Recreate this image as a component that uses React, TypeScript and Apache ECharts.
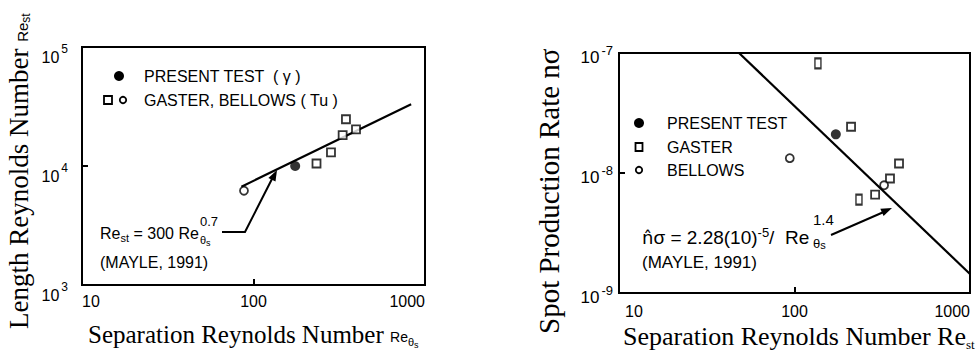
import React, { useEffect, useRef } from "react";
import * as echarts from "echarts";

// ---------- data ----------
const xMin = 10;
const xMax = 1000;

// Left panel: Length Reynolds number vs separation Reynolds number
const leftYMin = 1000;
const leftYMax = 100000;
const leftFitLine = [[85, 6700], [830, 33000]]; // Re_st = 300 Re^0.7 (Mayle 1991)
const leftPresent = [[175, 10000]];
const leftGaster = [[233, 10500], [283, 13000], [331, 18200], [396, 20300], [346, 24700]];
const leftBellows = [[88, 6200]];

// Right panel: spot production rate vs separation Reynolds number
const rightYMin = 1e-9;
const rightYMax = 1e-7;
const rightFitLine = [[48.3, 1.0e-7], [1000, 1.44e-9]]; // n sigma = 2.28e-5 / Re^1.4
const rightPresent = [[172, 2.1e-8]];
const rightGaster = [[136, 8.2e-8], [210, 2.43e-8], [394, 1.2e-8], [350, 9.0e-9], [288, 6.6e-9], [233, 6.0e-9]];
const rightBellows = [[94, 1.33e-8], [324, 7.9e-9]];

const SANS = "'Liberation Sans', Arial, Helvetica, sans-serif";
const SERIF = "'Liberation Serif', 'Times New Roman', serif";

function arrowHead(x1: number, y1: number, x2: number, y2: number, len = 11, w = 4) {
  const a = Math.atan2(y2 - y1, x2 - x1);
  const bx = x2 - len * Math.cos(a);
  const by = y2 - len * Math.sin(a);
  const px = -Math.sin(a) * w;
  const py = Math.cos(a) * w;
  return [[x2, y2], [bx + px, by + py], [bx - px, by - py]];
}

export default function App() {
  const ref = useRef<HTMLDivElement>(null);

  useEffect(() => {
    if (!ref.current) return;
    const chart = echarts.init(ref.current, undefined, { renderer: "svg" });

    const xAxis = (gridIndex: number, margin: number, padLeft: number) => ({
      type: "log",
      logBase: 10,
      min: xMin,
      max: xMax,
      gridIndex,
      axisLine: { show: false },
      axisTick: { show: true, inside: true, length: 6, lineStyle: { color: "#000", width: 2 } },
      minorTick: { show: false },
      splitLine: { show: false },
      axisLabel: {
        color: "#000",
        fontSize: 16,
        fontFamily: SANS,
        margin,
        alignMinLabel: "left",
        alignMaxLabel: "right",
        formatter: (v: number) => (Math.round(v) === xMin ? `{m|${Math.round(v)}}` : String(Math.round(v))),
        rich: { m: { fontSize: 16, fontFamily: SANS, color: "#000", padding: [0, 0, 0, padLeft] } },
      },
    });

    const yAxis = (gridIndex: number, min: number, max: number, margin: number, pad: number, base: number) => ({
      type: "log",
      logBase: 10,
      min,
      max,
      gridIndex,
      axisLine: { show: false },
      axisTick: { show: true, inside: true, length: 6, lineStyle: { color: "#000", width: 2 } },
      minorTick: { show: false },
      splitLine: { show: false },
      axisLabel: {
        color: "#000",
        margin,
        padding: [pad, 0, 0, 0],
        formatter: (v: number) => `{b|10}{s|${Math.round(Math.log10(v))}}`,
        rich: {
          b: { fontSize: base, fontFamily: SANS, color: "#000", lineHeight: 22, verticalAlign: "bottom" },
          s: { fontSize: base - 4, fontFamily: SANS, color: "#000", lineHeight: 12, verticalAlign: "top", padding: [0, 0, 0, 2] },
        },
      },
    });

    const lineSeries = (xi: number, data: number[][]) => ({
      type: "line",
      xAxisIndex: xi,
      yAxisIndex: xi,
      data,
      showSymbol: false,
      symbol: "none",
      lineStyle: { color: "#000", width: 2.2 },
      z: 2,
      silent: true,
    });
    const filled = (xi: number, data: number[][]) => ({
      type: "scatter",
      xAxisIndex: xi,
      yAxisIndex: xi,
      data,
      symbol: "circle",
      symbolSize: 10,
      itemStyle: { color: "#000" },
      z: 3,
    });
    const squares = (xi: number, data: any[]) => ({
      type: "scatter",
      xAxisIndex: xi,
      yAxisIndex: xi,
      data,
      symbol: "rect",
      symbolSize: 8,
      itemStyle: { color: "#fff", borderColor: "#000", borderWidth: 1.8 },
      z: 3,
    });
    const circles = (xi: number, data: number[][]) => ({
      type: "scatter",
      xAxisIndex: xi,
      yAxisIndex: xi,
      data,
      symbol: "circle",
      symbolSize: 8,
      itemStyle: { color: "#fff", borderColor: "#000", borderWidth: 1.8 },
      z: 3,
    });

    const rightGasterItems = rightGaster.map((p, i) =>
      i === 0 || i === rightGaster.length - 1 ? { value: p, symbolSize: [6, 10] } : { value: p }
    );

    const txt = (x: number, y: number, text: string, extra: any = {}) => ({
      type: "text",
      x,
      y,
      style: {
        text,
        fill: "#000",
        fontFamily: SANS,
        fontSize: 16,
        align: "left",
        verticalAlign: "middle",
        ...extra,
      },
      z: 10,
    });

    const stroke = { stroke: "#000", lineWidth: 2, fill: null };

    const graphics: any[] = [
      // ---- left legend ----
      { type: "circle", shape: { cx: 119, cy: 76, r: 5 }, style: { fill: "#000" }, z: 10 },
      txt(144, 76, "PRESENT TEST  ( \u03b3 )"),
      { type: "rect", shape: { x: 104, y: 96, width: 8, height: 8 }, style: { fill: "#fff", stroke: "#000", lineWidth: 1.8 }, z: 10 },
      { type: "circle", shape: { cx: 123, cy: 100, r: 3.2 }, style: { fill: "#fff", stroke: "#000", lineWidth: 1.8 }, z: 10 },
      txt(144, 100, "GASTER, BELLOWS ( Tu )"),

      // ---- left annotation ----
      txt(100, 233, "Re{sb|st} = 300 Re", {
        rich: { sb: { fontSize: 11, fontFamily: SANS, lineHeight: 11, verticalAlign: "bottom" } },
        lineHeight: 20,
      }),
      txt(200, 221, "0.7", { fontSize: 13 }),
      txt(200, 240, "\u03b8{sb|s}", {
        fontSize: 11,
        lineHeight: 14,
        rich: { sb: { fontSize: 9, fontFamily: SANS, lineHeight: 9, verticalAlign: "bottom" } },
      }),
      txt(100, 262, "(MAYLE, 1991)"),
      { type: "polyline", shape: { points: [[222, 232], [245, 232], [274, 175]] }, style: stroke, z: 10 },
      { type: "polygon", shape: { points: arrowHead(245, 232, 277, 170) }, style: { fill: "#000" }, z: 10 },

      // ---- right legend ----
      { type: "circle", shape: { cx: 639, cy: 123, r: 5 }, style: { fill: "#000" }, z: 10 },
      txt(667, 123, "PRESENT TEST"),
      { type: "rect", shape: { x: 635.5, y: 143, width: 7, height: 8 }, style: { fill: "#fff", stroke: "#000", lineWidth: 1.8 }, z: 10 },
      txt(667, 147, "GASTER"),
      { type: "circle", shape: { cx: 639, cy: 170, r: 3.2 }, style: { fill: "#fff", stroke: "#000", lineWidth: 1.8 }, z: 10 },
      txt(667, 170, "BELLOWS"),

      // ---- right annotation ----
      txt(642, 237, "{h|n\u0302}\u03c3 = 2.28(10){sp|-5}/  Re", {
        fontSize: 19,
        lineHeight: 22,
        rich: {
          h: { fontSize: 18, fontFamily: "'DejaVu Sans', sans-serif", lineHeight: 22 },
          sp: { fontSize: 13, fontFamily: SANS, lineHeight: 13, verticalAlign: "top" },
        },
      }),
      txt(813, 219, "1.4", { fontSize: 15 }),
      txt(813, 243, "\u03b8{sb|s}", {
        fontSize: 13,
        lineHeight: 15,
        rich: { sb: { fontSize: 11, fontFamily: SANS, lineHeight: 11, verticalAlign: "bottom" } },
      }),
      txt(642, 262, "(MAYLE, 1991)", { fontSize: 17 }),
      { type: "line", shape: { x1: 831, y1: 235, x2: 886, y2: 211 }, style: stroke, z: 10 },
      { type: "polygon", shape: { points: arrowHead(831, 235, 892, 208) }, style: { fill: "#000" }, z: 10 },

      // ---- axis titles ----
      txt(88, 334, "Separation Reynolds Number {r|Re}{t|\u03b8}{u|s}", {
        fontFamily: SERIF,
        fontSize: 25,
        lineHeight: 30,
        rich: {
          r: { fontFamily: SANS, fontSize: 14, lineHeight: 14, verticalAlign: "bottom", padding: [0, 0, 5, 0] },
          t: { fontFamily: SANS, fontSize: 11, lineHeight: 11, verticalAlign: "bottom", padding: [0, 0, 2, 0] },
          u: { fontFamily: SANS, fontSize: 9, lineHeight: 9, verticalAlign: "bottom" },
        },
      }),
      txt(623, 336, "Separation Reynolds Number Re{u|st}", {
        fontFamily: SERIF,
        fontSize: 26,
        lineHeight: 30,
        rich: { u: { fontFamily: SERIF, fontSize: 13, lineHeight: 12, verticalAlign: "bottom" } },
      }),
      {
        type: "text",
        x: 19,
        y: 329,
        rotation: Math.PI / 2,
        style: {
          text: "Length Reynolds Number {r|Re}{u|st}",
          fill: "#000",
          fontFamily: SERIF,
          fontSize: 27,
          lineHeight: 30,
          align: "left",
          verticalAlign: "middle",
          rich: {
            r: { fontFamily: SANS, fontSize: 15, lineHeight: 15, verticalAlign: "bottom", padding: [0, 0, 4, 0] },
            u: { fontFamily: SANS, fontSize: 12, lineHeight: 12, verticalAlign: "bottom", padding: [0, 0, 2, 0] },
          },
        },
        z: 10,
      },
      {
        type: "text",
        x: 549,
        y: 334,
        rotation: Math.PI / 2,
        style: {
          text: "Spot Production Rate n\u03c3",
          fill: "#000",
          fontFamily: SERIF,
          fontSize: 29,
          align: "left",
          verticalAlign: "middle",
        },
        z: 10,
      },
    ];

    chart.setOption({
      animation: false,
      backgroundColor: "#fff",
      grid: [
        { left: 82, top: 47, width: 343, height: 238, show: true, borderColor: "#000", borderWidth: 2, backgroundColor: "transparent" },
        { left: 619, top: 53, width: 351, height: 240, show: true, borderColor: "#000", borderWidth: 2, backgroundColor: "transparent" },
      ],
      xAxis: [xAxis(0, 8, 0), xAxis(1, 10, 6)],
      yAxis: [
        yAxis(0, leftYMin, leftYMax, 14, 14, 16),
        yAxis(1, rightYMin, rightYMax, 6, 4, 17),
      ],
      series: [
        lineSeries(0, leftFitLine),
        filled(0, leftPresent),
        squares(0, leftGaster),
        circles(0, leftBellows),
        lineSeries(1, rightFitLine),
        filled(1, rightPresent),
        squares(1, rightGasterItems),
        circles(1, rightBellows),
      ],
      graphic: { elements: graphics },
    } as any);

    return () => chart.dispose();
  }, []);

  return (
    <div
      ref={ref}
      style={{ position: "absolute", left: 0, top: 0, width: 980, height: 352, background: "#fff" }}
    />
  );
}
